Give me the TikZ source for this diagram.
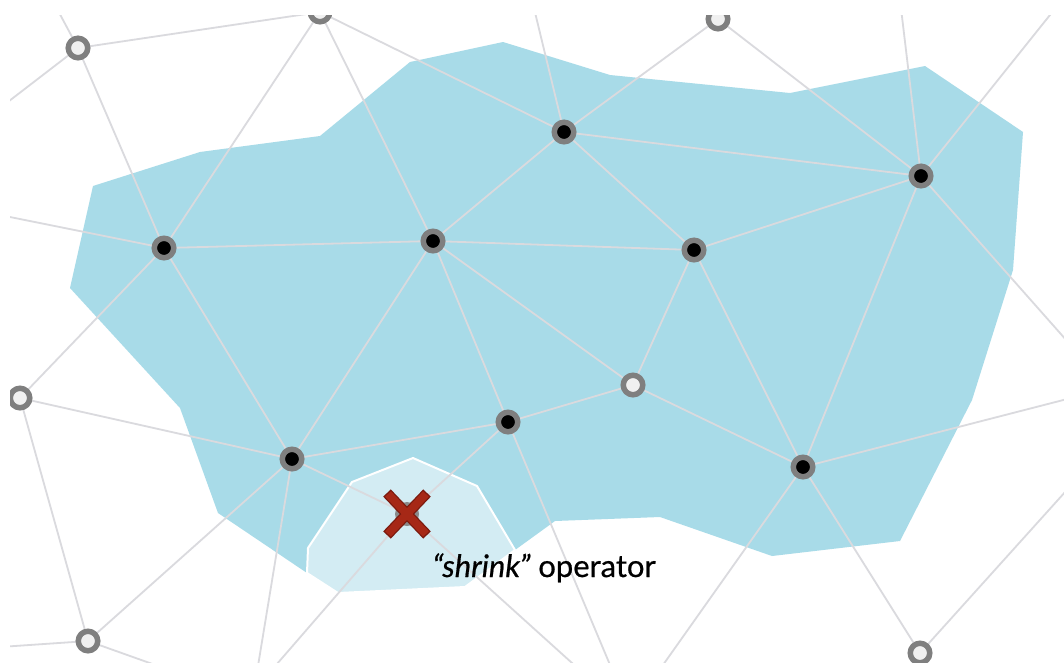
\documentclass[tikz,border=0pt]{standalone}
\usepackage{fontspec}
\setmainfont{Lato}
\pgfdeclarelayer{shapes}
\pgfdeclarelayer{edges}
\pgfsetlayers{shapes,edges,main}
\definecolor{bluefill}{HTML}{A8DBE8}
\definecolor{lightfill}{HTML}{D3ECF3}
\definecolor{edgec}{HTML}{DADADE}
\definecolor{ringc}{HTML}{7F7F7F}
\definecolor{openc}{HTML}{F0F0F0}
\definecolor{xgray}{HTML}{8A8A8A}
\definecolor{xred}{HTML}{A62816}
\definecolor{xdark}{HTML}{7A1A0E}
\begin{document}
\begin{tikzpicture}[x=1pt,y=-1pt,
  edge/.style={draw=edgec,line width=1.8pt},
  blk/.style={circle,fill=black,draw=ringc,line width=5.5pt,inner sep=0pt,minimum size=19.5pt},
  opn/.style={circle,fill=openc,draw=ringc,line width=5.5pt,inner sep=0pt,minimum size=19.5pt},
  xnode/.style={circle,fill=xgray,inner sep=0pt,minimum size=24pt},
  region/.style={fill=bluefill},
  shrinkregion/.style={fill=lightfill,draw=white,line width=2pt,line join=round},
  crossouter/.style={draw=xdark,line width=10.5pt},
  crossinner/.style={draw=xred,line width=8pt},
  lbl/.style={anchor=base west,font=\fontsize{31}{34}\selectfont\addfontfeature{FakeBold=0.6}}
]
\useasboundingbox (0,0) rectangle (1064,662);

% ---------- nodes ----------
\begin{scope}
\clip (10,15) rectangle (1064,662);
\node[opn] (O1) at (78,48) {};
\node[opn] (O2) at (320,12) {};
\node[opn] (O3) at (718,19) {};
\node[opn] (O4) at (20,398) {};
\node[opn] (O5) at (88,641) {};
\node[opn] (O6) at (633,385) {};
\node[opn] (O7) at (920,653) {};
\node[blk] (B1) at (164,248) {};
\node[blk] (B2) at (433,241) {};
\node[blk] (B3) at (564,132) {};
\node[blk] (B4) at (694,250) {};
\node[blk] (B5) at (921,176) {};
\node[blk] (B6) at (292,459) {};
\node[blk] (B7) at (508,422) {};
\node[blk] (B8) at (803,467) {};
\node[xnode] (X) at (407,514) {};
% free ends of connectors leaving the picture
\coordinate (f1) at (55,5);
\coordinate (f2) at (0,108);
\coordinate (f3) at (0,215);
\coordinate (f4) at (532,0);
\coordinate (f5) at (900,0);
\coordinate (f6) at (1062,0);
\coordinate (f7) at (1075,350);
\coordinate (f8) at (1075,397);
\coordinate (f9) at (1075,481);
\coordinate (f10) at (658,672);
\coordinate (f11) at (613,672);
\coordinate (f12) at (582,672);
\coordinate (f13) at (270,672);
\coordinate (f14) at (257,672);
\coordinate (f15) at (0,647);
\coordinate (f16) at (175,672);
% red cross over the removed node
\draw[crossouter] (X) ++(-20,-21) -- ++(40,42);
\draw[crossouter] (X) ++(20,-21) -- ++(-40,42);
\draw[crossinner] (X) ++(-19,-20) -- ++(38,40);
\draw[crossinner] (X) ++(19,-20) -- ++(-38,40);
\end{scope}

\node[lbl] (label) at (429,577) {\textit{“shrink”} operator};

% ---------- regions ----------
\begin{pgfonlayer}{shapes}
\fill[white] (0,0) rectangle (1064,662);
\begin{scope}
\clip (10,15) rectangle (1064,662);
\fill[region] (93,186) -- (200,152) -- (320,136) -- (410,62) -- (503,42) -- (610,75)
  -- (790,93) -- (925,66) -- (1023,132) -- (1013,270) -- (972,400) -- (900,541)
  -- (772,556) -- (660,517) -- (555,521) -- (515,550) -- (307,573) -- (218,513)
  -- (180,408) -- (70,288) -- cycle;
\path[shrinkregion] (308,548) -- (352,482) -- (413,458) -- (477,486) -- (515,550)
  -- (465,587) -- (338,593) -- (307,573) -- cycle;
\end{scope}
\end{pgfonlayer}

% ---------- connectors ----------
\begin{pgfonlayer}{edges}
\begin{scope}
\clip (10,15) rectangle (1064,662);
\draw[edge] (O1) -- (O2);
\draw[edge] (O1) -- (B1);
\draw[edge] (O1) -- (f1);
\draw[edge] (O1) -- (f2);
\draw[edge] (O2) -- (B1);
\draw[edge] (O2) -- (B2);
\draw[edge] (O2) -- (B3);
\draw[edge] (B1) -- (f3);
\draw[edge] (B1) -- (B2);
\draw[edge] (B1) -- (B6);
\draw[edge] (B1) -- (O4);
\draw[edge] (O4) -- (B6);
\draw[edge] (O4) -- (O5);
\draw[edge] (O5) -- (B6);
\draw[edge] (O5) -- (f15);
\draw[edge] (O5) -- (f16);
\draw[edge] (B6) -- (B2);
\draw[edge] (B6) -- (B7);
\draw[edge] (B6) -- (X);
\draw[edge] (B6) -- (f14);
\draw[edge] (X) -- (B7);
\draw[edge] (X) -- (f13);
\draw[edge] (X) -- (f12);
\draw[edge] (B7) -- (B2);
\draw[edge] (B7) -- (O6);
\draw[edge] (B7) -- (f11);
\draw[edge] (B2) -- (B3);
\draw[edge] (B2) -- (B4);
\draw[edge] (B2) -- (O6);
\draw[edge] (B3) -- (B4);
\draw[edge] (B3) -- (B5);
\draw[edge] (B3) -- (O3);
\draw[edge] (B3) -- (f4);
\draw[edge] (O3) -- (B5);
\draw[edge] (B4) -- (B5);
\draw[edge] (B4) -- (O6);
\draw[edge] (B4) -- (B8);
\draw[edge] (B5) -- (B8);
\draw[edge] (B5) -- (f5);
\draw[edge] (B5) -- (f6);
\draw[edge] (B5) -- (f7);
\draw[edge] (O6) -- (B8);
\draw[edge] (B8) -- (O7);
\draw[edge] (B8) -- (f8);
\draw[edge] (B8) -- (f10);
\draw[edge] (O7) -- (f9);
\end{scope}
\end{pgfonlayer}
\end{tikzpicture}
\end{document}
